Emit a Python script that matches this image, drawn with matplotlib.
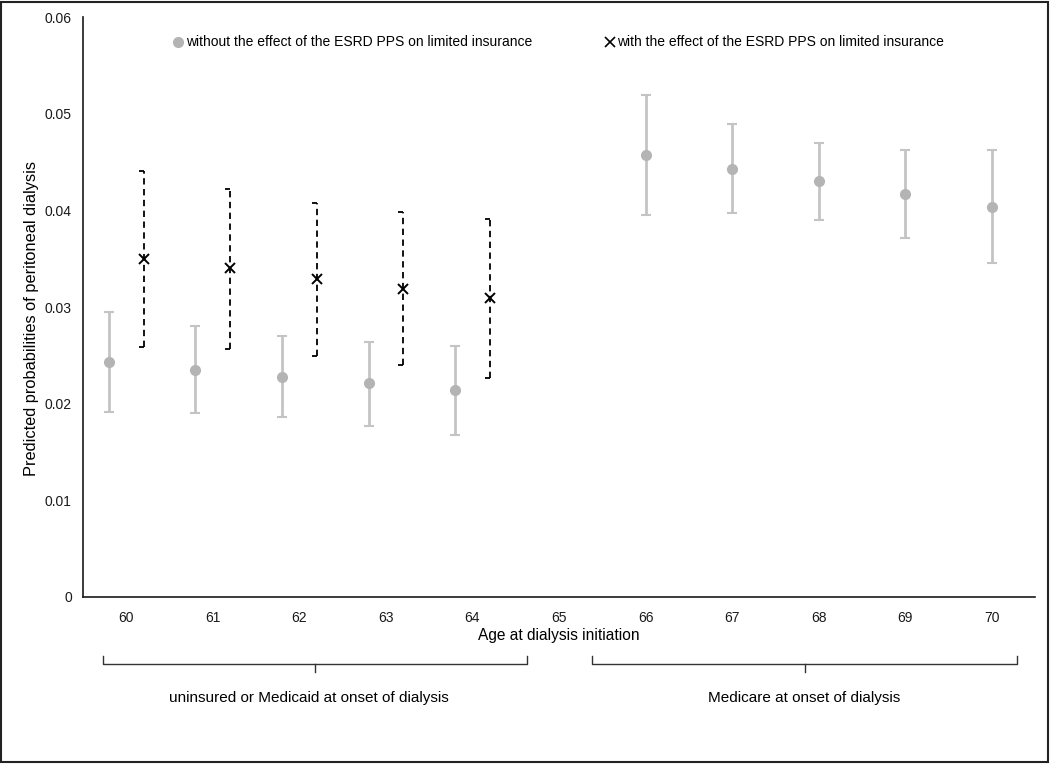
import numpy as np
import matplotlib
matplotlib.use("Agg")
import matplotlib.pyplot as plt
from matplotlib.path import Path
from matplotlib.patches import Rectangle

# data
ages = ["60", "61", "62", "63", "64", "65", "66", "67", "68", "69", "70"]

# without the effect (grey dots): ages 60-64 and 66-70
grey_left_pos = [0, 1, 2, 3, 4]
grey_left_val = [0.0243, 0.0235, 0.0228, 0.0221, 0.0214]
grey_left_lo = [0.0191, 0.0190, 0.0186, 0.0177, 0.0168]
grey_left_hi = [0.0295, 0.0280, 0.0270, 0.0264, 0.0260]

grey_right_pos = [6, 7, 8, 9, 10]
grey_right_val = [0.0457, 0.0443, 0.0430, 0.0417, 0.0404]
grey_right_lo = [0.0395, 0.0397, 0.0390, 0.0371, 0.0346]
grey_right_hi = [0.0519, 0.0489, 0.0470, 0.0462, 0.0462]

# with the effect (black crosses): ages 60-64
cross_pos = [0, 1, 2, 3, 4]
cross_val = [0.0350, 0.0340, 0.0329, 0.0319, 0.0309]
cross_lo = [0.0259, 0.0257, 0.0249, 0.0240, 0.0227]
cross_hi = [0.0441, 0.0422, 0.0408, 0.0398, 0.0391]

yticks = [0, 0.01, 0.02, 0.03, 0.04, 0.05, 0.06]
ytick_labels = ["0", "0.01", "0.02", "0.03", "0.04", "0.05", "0.06"]

plt.rcParams['font.family'] = ['Liberation Sans', 'DejaVu Sans']
plt.rcParams['font.size'] = 10

GREY = "#b4b4b4"
GREY_LINE = "#c4c4c4"


def draw():
    fig = plt.figure(figsize=(10.5, 7.64), dpi=100)
    ax = fig.add_axes([0.079, 0.2186, 0.9067, 0.759])

    off = 0.2
    xl = np.array(grey_left_pos) - off
    v = np.array(grey_left_val)
    ax.errorbar(xl, v, yerr=[v - np.array(grey_left_lo), np.array(grey_left_hi) - v],
                fmt='o', color=GREY, ecolor=GREY_LINE, elinewidth=2, capsize=3.5,
                capthick=1.5, markersize=7, zorder=3)

    v = np.array(grey_right_val)
    ax.errorbar(grey_right_pos, v,
                yerr=[v - np.array(grey_right_lo), np.array(grey_right_hi) - v],
                fmt='o', color=GREY, ecolor=GREY_LINE, elinewidth=2, capsize=3.5,
                capthick=1.5, markersize=7, zorder=3)

    # dashed bars with half caps for the crosses
    xc = np.array(cross_pos) + off
    ax.vlines(xc, cross_lo, cross_hi, colors='black', linestyles=(0, (3.5, 2.5)),
              linewidth=1.3, zorder=2)
    halfcap = Path([(-1, 0), (0, 0)], [Path.MOVETO, Path.LINETO])
    ax.plot(xc, cross_lo, linestyle='none', marker=halfcap, markersize=7,
            markeredgecolor='black', markeredgewidth=1.3)
    ax.plot(xc, cross_hi, linestyle='none', marker=halfcap, markersize=7,
            markeredgecolor='black', markeredgewidth=1.3)
    ax.plot(xc, cross_val, linestyle='none', marker='x', markersize=6.5,
            markeredgewidth=1.4, color='black', zorder=4)

    ax.set_xlim(-0.5, len(ages) - 0.5)
    ax.set_ylim(0, 0.06)
    ax.set_xticks(range(len(ages)))
    ax.set_xticklabels(ages)
    ax.set_yticks(yticks)
    ax.set_yticklabels(ytick_labels)
    ax.tick_params(axis='both', length=0, labelsize=10, colors='#1a1a1a')
    ax.tick_params(axis='y', pad=8)
    ax.tick_params(axis='x', pad=10)
    for s in ['top', 'right']:
        ax.spines[s].set_visible(False)
    for s in ['left', 'bottom']:
        ax.spines[s].set_linewidth(1.2)
        ax.spines[s].set_color('#1a1a1a')

    ax.set_ylabel("Predicted probabilities of peritoneal dialysis", fontsize=11.8)
    ax.yaxis.set_label_coords(-0.046, 0.48)
    ax.set_xlabel("Age at dialysis initiation", fontsize=11.2)
    ax.xaxis.set_label_coords(0.5, -0.054)

    # legend
    h1 = plt.Line2D([], [], linestyle='none', marker='o', color=GREY, markersize=7)
    h2 = plt.Line2D([], [], linestyle='none', marker='x', color='black',
                    markersize=6.5, markeredgewidth=1.2)
    ax.legend([h1, h2], ["without the effect of the ESRD PPS on limited insurance",
                         "with the effect of the ESRD PPS on limited insurance"],
              ncol=2, loc='upper center', bbox_to_anchor=(0.5, 0.99), frameon=False,
              handlelength=0.6, handletextpad=0.25, columnspacing=5.3, fontsize=10)

    # braces under the axis
    tr = ax.transAxes
    for x0, x1 in [(0.021, 0.466), (0.535, 0.981)]:
        xm = (x0 + x1) / 2
        ax.plot([x0, x0, x1, x1], [-0.101, -0.1155, -0.1155, -0.101], color='#333333',
                lw=1, transform=tr, clip_on=False)
        ax.plot([xm, xm], [-0.1155, -0.13], color='#333333', lw=1, transform=tr,
                clip_on=False)
    ax.text(0.237, -0.175, "uninsured or Medicaid at onset of dialysis", transform=tr,
            ha='center', va='center', fontsize=11)
    ax.text(0.757, -0.175, "Medicare at onset of dialysis", transform=tr,
            ha='center', va='center', fontsize=11)

    fig.patches.append(Rectangle((0.001, 0.002), 0.997, 0.996, transform=fig.transFigure,
                                 fill=False, edgecolor='#222222', linewidth=1.5))

    fig.savefig("out.png", dpi=100)


if __name__ == "__main__":
    draw()
